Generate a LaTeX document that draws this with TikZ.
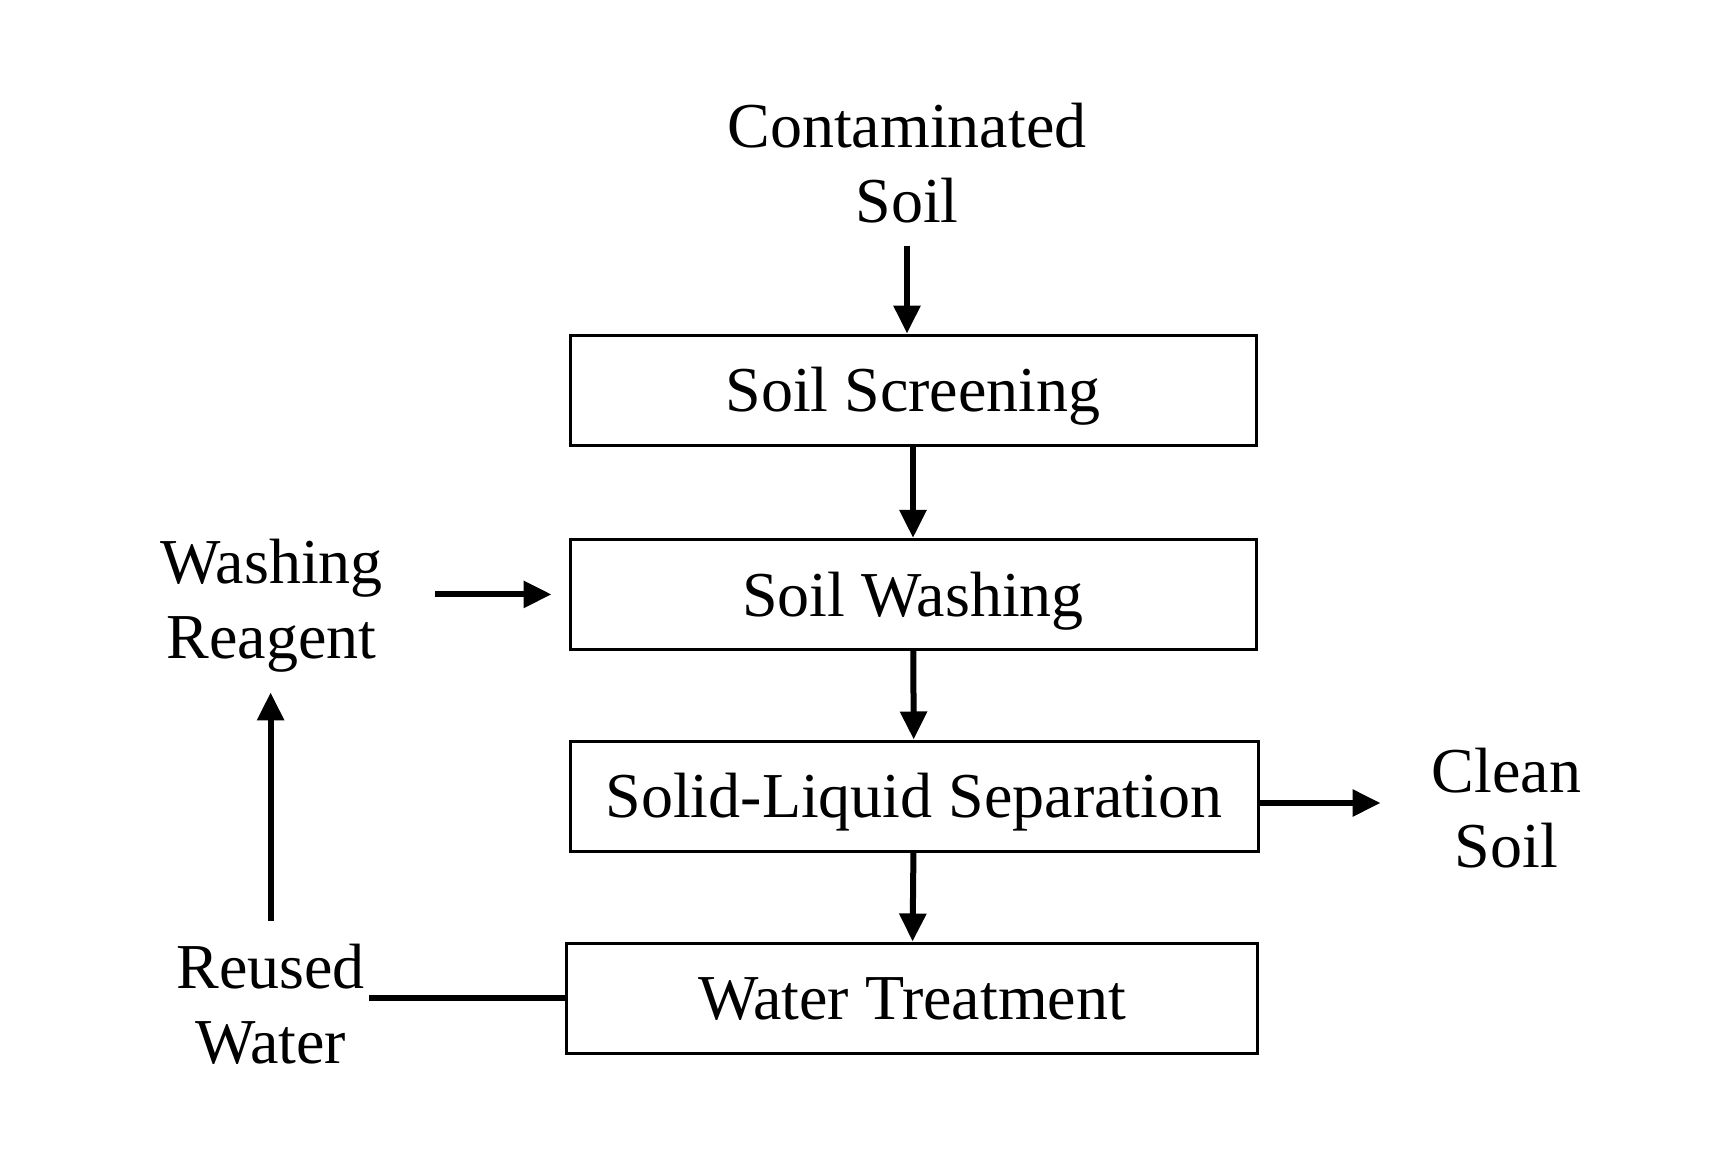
\documentclass[tikz,border=0pt]{standalone}
\usepackage{fontspec}
\setmainfont{Liberation Serif}
\usetikzlibrary{arrows.meta}
\usetikzlibrary{positioning}

\tikzset{
  stage/.style={draw, line width=1.5pt, minimum width=343pt, minimum height=55pt,
    inner sep=0pt, text height=21.9pt, text depth=0pt, font=\fontsize{32}{37.5}\selectfont},
  flowtext/.style={inner sep=0pt, align=center, font=\fontsize{32}{37.5}\selectfont},
  flow/.style={line width=3pt, -{Triangle[length=14pt,width=13pt]}},
}

\begin{document}
\begin{tikzpicture}
    \useasboundingbox (0,0) rectangle (867.5pt,-581.5pt);
    \node [stage] (screen) at (456.5pt,-195pt) {Soil Screening};
    \node [stage, below=45.7pt of screen] (wash) {Soil Washing};
    \node [stage, below=44.3pt of wash, minimum width=344pt, xshift=0.5pt] (sep) {Solid-Liquid Separation};
    \node [stage, below=44.5pt of sep, minimum width=345.3pt, xshift=-1pt] (water) {Water Treatment};
    \node [flowtext, above=55pt of screen, xshift=-3pt] (contam) {Contaminated\\Soil};
    \node [flowtext, left=92.6pt of wash, yshift=-5.5pt] (reagent) {Washing\\Reagent};
    \node [flowtext, left=100pt of water, yshift=-3.2pt] (reused) {Reused\\Water};
    \node [flowtext, right=86pt of sep, yshift=-6pt] (clean) {Clean\\Soil};
    \draw [flow, shorten <=11pt] (contam.south) -- (contam.south |- screen.north);
    \draw [flow] (screen) -- (wash);
    \draw [flow] (wash) -- (sep);
    \draw [flow] (sep) -- (water);
    \draw [flow, shorten <=26pt, shorten >=8.5pt] (reagent.east |- wash.west) -- (wash.west);
    \draw [flow, shorten >=25.5pt] ([yshift=-3.5pt]sep.east) -- ([yshift=-3.5pt]sep.east -| clean.west);
    \draw [line width=3pt, shorten <=2pt] (reused.east |- water.west) -- (water.west);
    \draw [flow, shorten <=11.5pt, shorten >=10pt] (reused.north) -- (reused.north |- reagent.south);
\end{tikzpicture}
\end{document}
